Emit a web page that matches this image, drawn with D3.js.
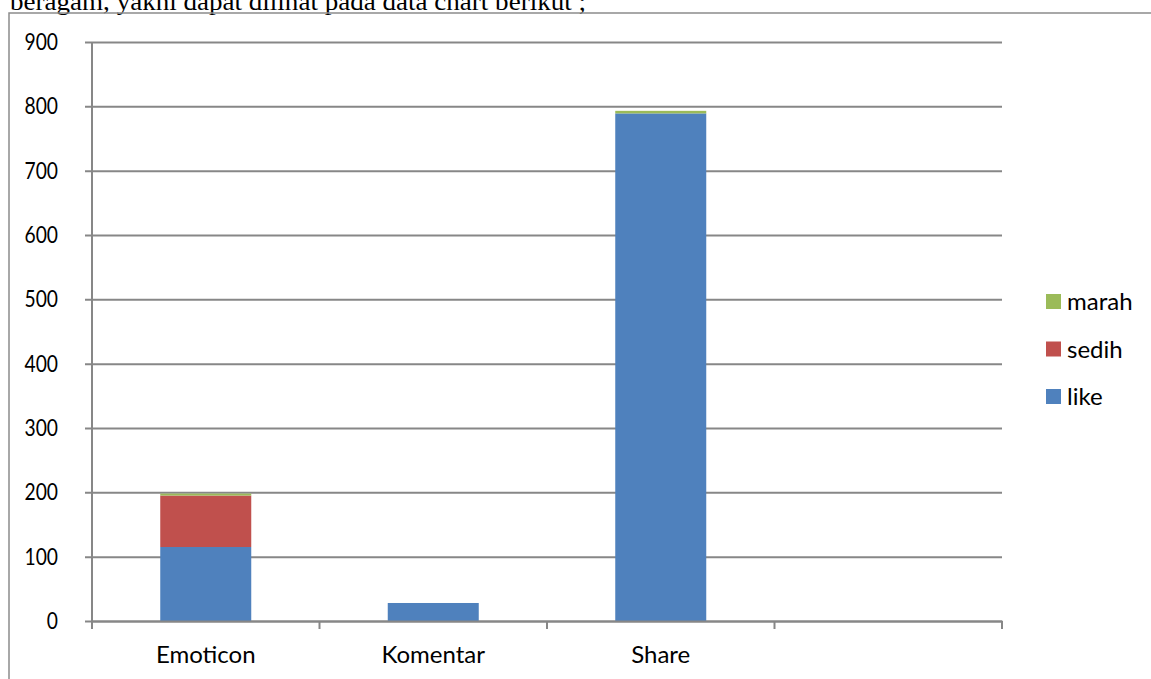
<!DOCTYPE html>
<html>
<head>
<meta charset="utf-8">
<script src="https://cdn.jsdelivr.net/npm/d3@7"></script>
<style>
  body { margin: 0; background: #fff; }
  svg { display: block; }
</style>
</head>
<body>
<div id="chart"></div>
<script>
const width = 1151;
const height = 679;

// data
const categories = ["Emoticon", "Komentar", "Share", ""];
const seriesNames = ["like", "sedih", "marah"];
const like = [115, 28, 789, 0];
const sedih = [80, 0, 0, 0];
const marah = [3, 0, 4, 0];
const yTicks = [0, 100, 200, 300, 400, 500, 600, 700, 800, 900];
const colors = ["#4f81bd", "#c0504d", "#9bbb59"];

const margin = { left: 92, right: 149, top: 42, bottom: 58 };
const labelFont = "Lato, 'Open Sans', sans-serif";
const digitSqueeze = 0.82;

const svg = d3.select("#chart")
    .append("svg")
    .attr("width", width)
    .attr("height", height);

// clipped line of the surrounding document
svg.append("text")
    .attr("x", 10)
    .attr("y", 9.5)
    .attr("textLength", 576)
    .attr("lengthAdjust", "spacingAndGlyphs")
    .style("font-family", "Liberation Serif")
    .style("font-size", "26px")
    .attr("fill", "#000")
    .text("beragam, yakni dapat dilihat pada data chart berikut ;");

// chart frame
svg.append("rect")
    .attr("x", 9)
    .attr("y", 13)
    .attr("width", width)
    .attr("height", height)
    .attr("fill", "none")
    .attr("stroke", "#8c8c8c")
    .attr("stroke-width", 1.5);

const rows = categories.map((c, i) => ({ cat: c, like: like[i], sedih: sedih[i], marah: marah[i] }));
const stacked = d3.stack().keys(seriesNames)(rows);

const x = d3.scaleBand()
    .domain(d3.range(categories.length))
    .range([margin.left, width - margin.right])
    .paddingInner(0.6)
    .paddingOuter(0.3);

const xBand = d3.scaleBand()
    .domain(d3.range(categories.length))
    .range([margin.left, width - margin.right]);

const y = d3.scaleLinear()
    .domain([0, 900])
    .range([height - margin.bottom, margin.top]);

// gridlines and y axis
const yAxis = svg.append("g")
    .attr("transform", `translate(${margin.left},0)`)
    .call(d3.axisLeft(y)
        .tickValues(yTicks)
        .tickSize(-(width - margin.left - margin.right))
        .tickPadding(34)
        .tickSizeOuter(0));
yAxis.select(".domain").remove();
yAxis.selectAll(".tick line")
    .attr("x1", -7)
    .attr("stroke", "#878787")
    .attr("stroke-width", 2);
// narrow digits like the original font
yAxis.selectAll(".tick text")
    .attr("x", -34 / digitSqueeze)
    .attr("transform", `scale(${digitSqueeze},1)`)
    .style("font-family", labelFont)
    .style("font-size", "23.5px")
    .attr("fill", "#000");

svg.append("line")
    .attr("x1", margin.left).attr("x2", margin.left)
    .attr("y1", margin.top).attr("y2", height - margin.bottom)
    .attr("stroke", "#878787")
    .attr("stroke-width", 2);

// bars
svg.append("g")
    .selectAll("g")
    .data(stacked)
    .enter().append("g")
    .attr("fill", (d, i) => colors[i])
    .selectAll("rect")
    .data((d) => d)
    .enter().append("rect")
    .attr("x", (d, i) => x(i))
    .attr("width", x.bandwidth())
    .attr("y", (d) => y(d[1]))
    .attr("height", (d) => y(d[0]) - y(d[1]));

// x axis
const xAxis = svg.append("g")
    .attr("transform", `translate(0,${height - margin.bottom})`)
    .call(d3.axisBottom(xBand)
        .tickFormat((i) => categories[i])
        .tickSize(0)
        .tickPadding(25));
xAxis.select(".domain")
    .attr("stroke", "#878787")
    .attr("stroke-width", 2);
xAxis.selectAll(".tick text")
    .style("font-family", labelFont)
    .style("font-size", "24px")
    .attr("fill", "#000");
xAxis.selectAll(".sep")
    .data(d3.range(categories.length + 1))
    .enter().append("line")
    .attr("class", "sep")
    .attr("x1", (i) => margin.left + i * xBand.step())
    .attr("x2", (i) => margin.left + i * xBand.step())
    .attr("y1", 0)
    .attr("y2", 8)
    .attr("stroke", "#878787")
    .attr("stroke-width", 2);

// legend, top entry is the last series
const legend = svg.append("g")
    .attr("transform", "translate(1046,294)");
const items = legend.selectAll("g")
    .data(seriesNames.slice().reverse())
    .enter().append("g")
    .attr("transform", (d, i) => `translate(0,${i * 47.5})`);
items.append("rect")
    .attr("width", 15)
    .attr("height", 15)
    .attr("fill", (d) => colors[seriesNames.indexOf(d)]);
items.append("text")
    .attr("x", 21)
    .attr("y", 16)
    .style("font-family", labelFont)
    .style("font-size", "24px")
    .attr("fill", "#000")
    .text((d) => d);
</script>
</body>
</html>
